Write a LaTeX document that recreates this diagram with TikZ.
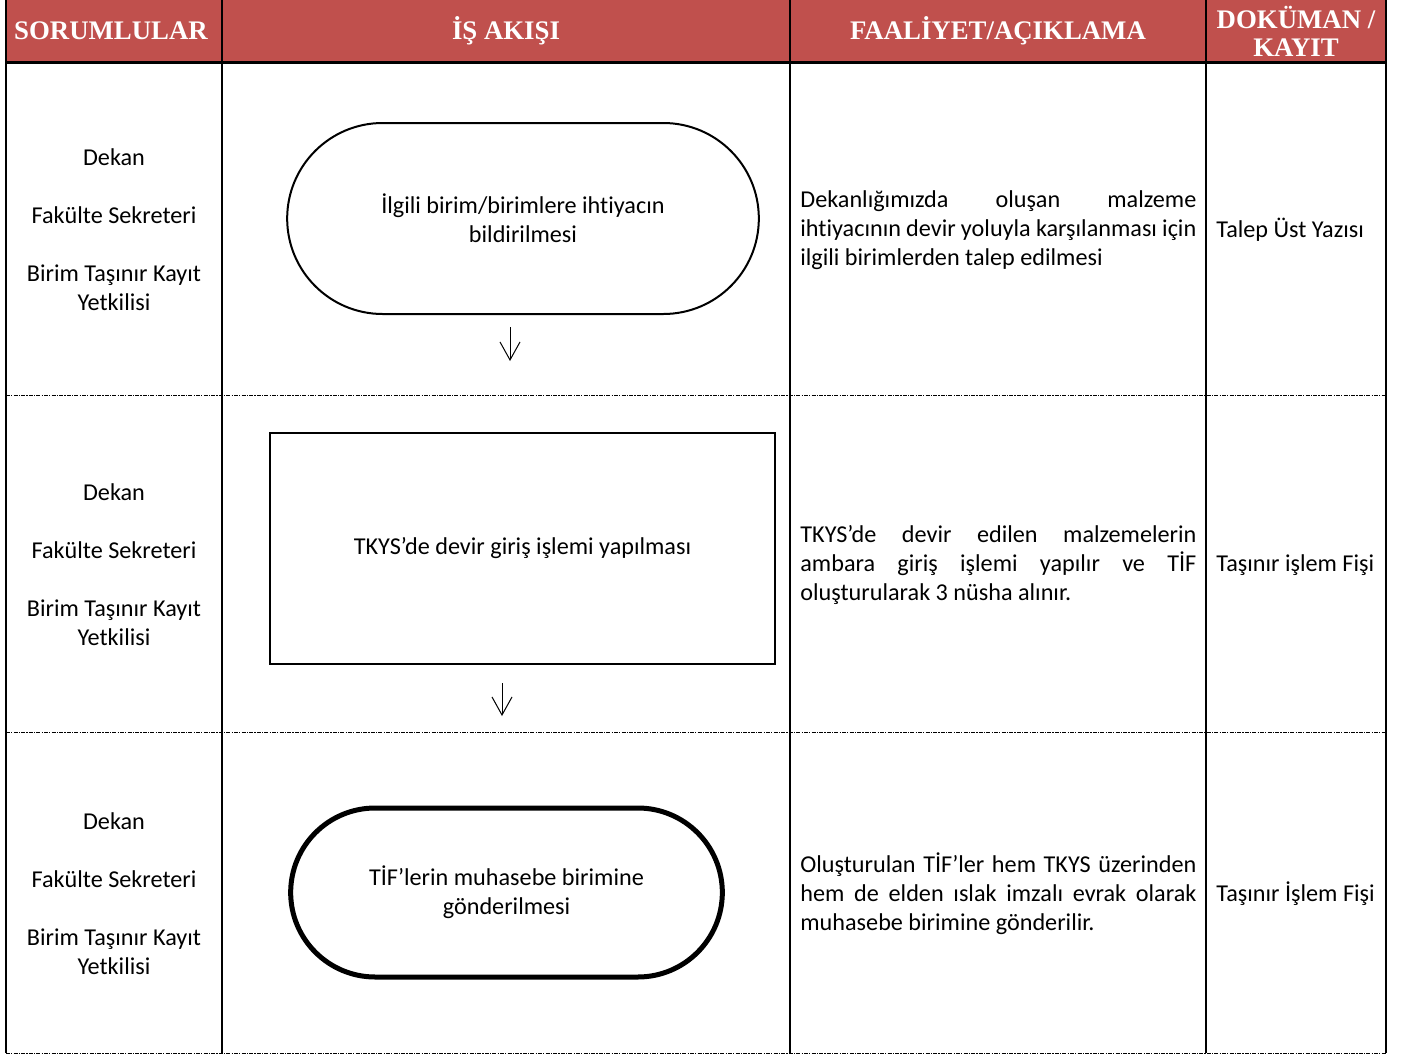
\documentclass[tikz,border=0pt]{standalone}
\usepackage{fontspec}
\setmainfont{Carlito}[RawFeature=-liga]
\newfontfamily\headfont{Liberation Serif}
\usetikzlibrary{arrows.meta, shapes.misc}
\definecolor{headred}{HTML}{C0504D}

\begin{document}
\begin{tikzpicture}[
        x=0.5pt, y=-0.5pt,
        head/.style={
            font=\headfont\bfseries\fontsize{13.4}{14}\selectfont,
            text=white,
            align=center,
            inner sep=0pt,
        },
        who/.style={
            font=\fontsize{12.1}{14.5}\selectfont,
            align=center,
            inner sep=0pt,
        },
        note/.style={
            font=\fontsize{12.1}{14.5}\selectfont,
            text width=198pt,
            align=justify,
            anchor=west,
            inner sep=0pt,
        },
        doc/.style={
            font=\fontsize{12.1}{14.5}\selectfont,
            anchor=west,
            inner sep=0pt,
        },
        terminal/.style={
            draw,
            rounded rectangle,
            font=\fontsize{12.1}{14.5}\selectfont,
            align=center,
        },
        process/.style={
            draw,
            rectangle,
            font=\fontsize{12.1}{14.5}\selectfont,
            align=center,
        },
        rowline/.style={
            line width=0.5pt,
            dash pattern=on 2pt off 0.6pt on 0.6pt off 0.6pt,
        },
        colline/.style={
            line width=1pt,
        },
    ]

    \useasboundingbox (0, 0) rectangle (1404, 1055);

    % header band
    \fill[headred] (6, 0) rectangle (1386, 62);
    \node[head] (hresp) at (111, 31) {SORUMLULAR};
    \node[head] (hflow) at (506, 31) {İŞ AKIŞI};
    \node[head] (hdesc) at (998, 31) {FAALİYET/AÇIKLAMA};
    \node[head] (hdoc) at (1296, 31) {DOKÜMAN /\\KAYIT};

    % table rules
    \draw[rowline] (6, 395) -- (1386, 395);
    \draw[rowline] (6, 732) -- (1386, 732);
    \draw[rowline] (6, 1053) -- (1386, 1053);
    \draw[colline] (6, 0) -- (6, 1053);
    \draw[colline] (222, 0) -- (222, 1053);
    \draw[colline] (790, 0) -- (790, 1053);
    \draw[colline] (1206, 0) -- (1206, 1053);
    \draw[colline] (1386, 0) -- (1386, 1053);
    \draw[line width=1.5pt] (6, 62) -- (1386, 62);

    % responsible units
    \node[who] (resp1) at (114, 230) {Dekan\\[14.5pt]Fakülte Sekreteri\\[14.5pt]Birim Taşınır Kayıt\\Yetkilisi};
    \node[who] (resp2) at (114, 565) {Dekan\\[14.5pt]Fakülte Sekreteri\\[14.5pt]Birim Taşınır Kayıt\\Yetkilisi};
    \node[who] (resp3) at (114, 894) {Dekan\\[14.5pt]Fakülte Sekreteri\\[14.5pt]Birim Taşınır Kayıt\\Yetkilisi};

    % work flow
    \node[terminal, line width=1pt, minimum width=242.5pt, minimum height=95.5pt] (flow1) at (523, 218.5)
        {İlgili birim/birimlere ihtiyacın\\bildirilmesi};
    \node[process, line width=1.25pt, minimum width=252.5pt, minimum height=115.5pt] (flow2) at (522.5, 548.5)
        {TKYS’de devir giriş işlemi yapılması};
    \node[terminal, line width=2.5pt, minimum width=222.5pt, minimum height=84.5pt] (flow3) at (506.5, 892.5)
        {TİF’lerin muhasebe birimine\\gönderilmesi};

    \coordinate (a1s) at (510, 327);
    \coordinate (a1e) at (510, 361);
    \coordinate (a2s) at (502, 683);
    \coordinate (a2e) at (502, 716);

    \begin{scope}[line width=0.5pt, -{Straight Barb[length=9pt, width=10pt]}]
        \draw (a1s) -- (a1e);
        \draw (a2s) -- (a2e);
    \end{scope}

    % activity / explanation
    \node[note] (desc1) at (800, 230)
        {Dekanlığımızda oluşan malzeme\linebreak ihtiyacının devir yoluyla karşılanması için\linebreak ilgili birimlerden talep edilmesi};
    \node[note] (desc2) at (800, 565)
        {TKYS’de devir edilen malzemelerin\linebreak ambara giriş işlemi yapılır ve TİF\linebreak oluşturularak 3 nüsha alınır.};
    \node[note] (desc3) at (800, 894)
        {Oluşturulan TİF’ler hem TKYS üzerinden\linebreak hem de elden ıslak imzalı evrak olarak\linebreak muhasebe birimine gönderilir.};

    % documents / records
    \node[doc] (doc1) at (1216, 230) {Talep Üst Yazısı};
    \node[doc] (doc2) at (1216, 565) {Taşınır işlem Fişi};
    \node[doc] (doc3) at (1216, 894) {Taşınır İşlem Fişi};
\end{tikzpicture}
\end{document}
